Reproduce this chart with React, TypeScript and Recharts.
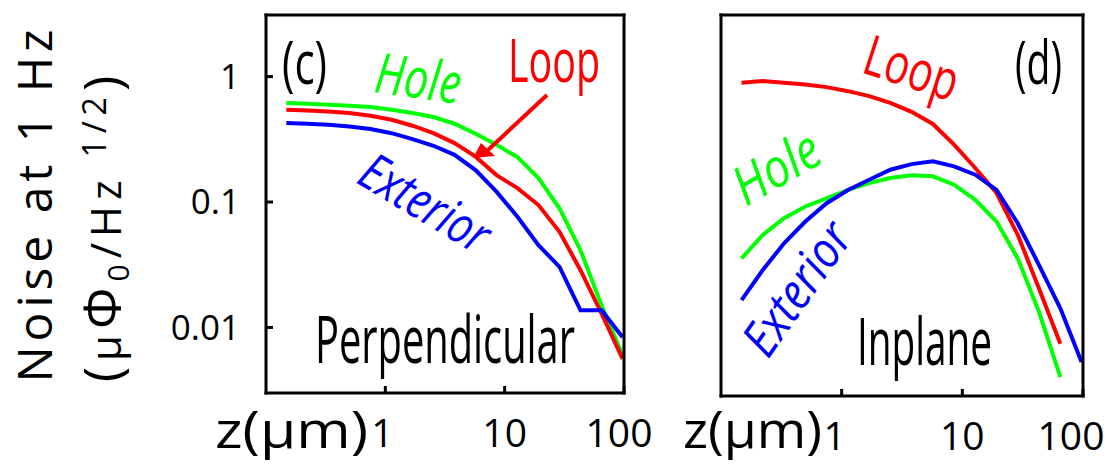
import { LineChart, Line, XAxis, YAxis } from 'recharts';

// z positions (um), shared by both panels
const zGrid = [0.148, 0.222, 0.333, 0.5, 0.75, 1.13, 1.69, 2.53, 3.8, 5.7, 8.54, 12.8, 19.2, 28.8, 43.2, 64.9, 97.3];

// (c) perpendicular
const perpHole = [0.616, 0.608, 0.597, 0.586, 0.572, 0.545, 0.512, 0.476, 0.421, 0.35, 0.286, 0.228, 0.155, 0.089, 0.0413, 0.015, 0.006];
const perpLoop = [0.545, 0.538, 0.528, 0.512, 0.488, 0.453, 0.406, 0.354, 0.295, 0.23, 0.164, 0.129, 0.0946, 0.0579, 0.0286, 0.0129, 0.00562];
const perpExt = [0.426, 0.421, 0.413, 0.4, 0.382, 0.354, 0.317, 0.281, 0.238, 0.18, 0.121, 0.0763, 0.0453, 0.0304, 0.0137, 0.0137, 0.00836];

// (d) inplane
const inLoop = [0.901, 0.93, 0.901, 0.875, 0.833, 0.774, 0.707, 0.625, 0.531, 0.426, 0.292, 0.191, 0.121, 0.0565, 0.0213, 0.00778, null];
const inHole = [0.0368, 0.0565, 0.0764, 0.0947, 0.11, 0.128, 0.145, 0.159, 0.167, 0.164, 0.141, 0.107, 0.072, 0.0368, 0.0139, 0.00424, null];
const inExt = [0.0172, 0.0298, 0.0484, 0.072, 0.1005, 0.128, 0.154, 0.185, 0.205, 0.216, 0.197, 0.169, 0.128, 0.0698, 0.0326, 0.0148, 0.00557];

const xTicks = [1, 10, 100];
const yTicks = [0.01, 0.1, 1];

const FONT = '"Open Sans", sans-serif';
const GREEN = '#00ff00';
const RED = '#ff0000';
const BLUE = '#0000ff';

const frame = { stroke: '#000', strokeWidth: 3, strokeLinecap: 'square' as const };
const tickLn = { stroke: '#000', strokeWidth: 3 };

const rows = (hole: (number | null)[], loop: (number | null)[], ext: (number | null)[]) =>
  zGrid.map((z, i) => ({ z, hole: hole[i], loop: loop[i], ext: ext[i] }));

// bottom tick label, nudged sideways like the original
function XTick(props: any) {
  const { x, y, payload, shift } = props;
  const dx = shift[payload.value] ?? 0;
  return (
    <text x={x + dx} y={y} dy="0.71em" textAnchor="middle" fontSize={39} fontFamily={FONT} fill="#000">
      {payload.value}
    </text>
  );
}

function Panel({ data, width, margin, yLabels, shift }: { data: any[]; width: number; margin: any; yLabels: boolean; shift: Record<number, number> }) {
  return (
    <LineChart width={width} height={464} data={data} margin={margin}>
      <XAxis
        xAxisId="b"
        dataKey="z"
        type="number"
        scale="log"
        domain={[0.1, 100]}
        allowDataOverflow
        ticks={xTicks}
        height={60}
        tickSize={-7}
        tickMargin={33}
        axisLine={frame}
        tickLine={tickLn}
        tick={(p: any) => <XTick {...p} shift={shift} />}
      />
      <XAxis
        xAxisId="t"
        orientation="top"
        dataKey="z"
        type="number"
        scale="log"
        domain={[0.1, 100]}
        allowDataOverflow
        ticks={xTicks}
        height={1}
        tickSize={-7}
        axisLine={frame}
        tickLine={tickLn}
        tick={false}
      />
      <YAxis
        yAxisId="l"
        type="number"
        scale="log"
        domain={[0.003, 3.1]}
        allowDataOverflow
        ticks={yTicks}
        width={yLabels ? 100 : 1}
        tickSize={-7}
        tickMargin={33}
        axisLine={frame}
        tickLine={tickLn}
        tick={yLabels ? { fontSize: 35, fill: '#000', fontFamily: FONT } : false}
      />
      <YAxis
        yAxisId="r"
        orientation="right"
        type="number"
        scale="log"
        domain={[0.003, 3.1]}
        allowDataOverflow
        ticks={yTicks}
        width={1}
        tickSize={-7}
        axisLine={frame}
        tickLine={tickLn}
        tick={false}
      />
      <Line xAxisId="b" yAxisId="l" dataKey="hole" stroke={GREEN} strokeWidth={4} dot={false} isAnimationActive={false} />
      <Line xAxisId="b" yAxisId="l" dataKey="loop" stroke={RED} strokeWidth={4} dot={false} isAnimationActive={false} />
      <Line xAxisId="b" yAxisId="l" dataKey="ext" stroke={BLUE} strokeWidth={4} dot={false} isAnimationActive={false} />
    </LineChart>
  );
}

export default function App() {
  const abs = { position: 'absolute' as const, left: 0, top: 0 };
  return (
    <div style={{ ...abs, width: 1109, height: 464, background: '#fff', fontFamily: FONT, overflow: 'hidden' }}>
      <div style={abs}>
        <Panel
          data={rows(perpHole, perpLoop, perpExt)}
          width={700}
          margin={{ top: 14, right: 75, bottom: 11, left: 166 }}
          yLabels
          shift={{ 1: -3, 100: -5 }}
        />
      </div>
      <div style={abs}>
        <Panel
          data={rows(inHole, inLoop, inExt)}
          width={1109}
          margin={{ top: 14, right: 25, bottom: 8, left: 720 }}
          yLabels={false}
          shift={{ 1: -7, 100: -12 }}
        />
      </div>
      <svg width={1109} height={464} style={{ ...abs, pointerEvents: 'none' }} fontFamily={FONT}>
        {/* y axis title */}
        <text transform="translate(52,206) rotate(-90)" textAnchor="middle" fontSize={48} textLength={353} lengthAdjust="spacing">
          Noise at 1 Hz
        </text>
        <text transform="translate(121,226) rotate(-90)" textAnchor="middle" fontSize={42} letterSpacing={6}>
          <tspan fontSize={52}>(</tspan>
          <tspan>μ</tspan>
          <tspan fontSize={52}>Φ</tspan>
          <tspan fontSize={30} dy={8}>0</tspan>
          <tspan dy={-8}>/Hz </tspan>
          <tspan fontSize={32} dy={-15}>1/2</tspan>
          <tspan fontSize={52} dy={15}>)</tspan>
        </text>

        {/* x axis titles */}
        <text x={215} y={448} fontSize={52} textLength={153} lengthAdjust="spacingAndGlyphs">z(μm)</text>
        <text x={683} y={448} fontSize={52} textLength={139} lengthAdjust="spacingAndGlyphs">z(μm)</text>

        {/* panel (c) */}
        <text x={282} y={84} fontSize={60} textLength={45} lengthAdjust="spacingAndGlyphs">(c)</text>
        <text transform="translate(373,92) rotate(8)" fontSize={56} fontStyle="italic" fill={GREEN} textLength={86} lengthAdjust="spacingAndGlyphs">Hole</text>
        <text x={508} y={82} fontSize={60} fill={RED} textLength={92} lengthAdjust="spacingAndGlyphs">Loop</text>
        <text transform="translate(355,182) rotate(31)" fontSize={52} fontStyle="italic" fill={BLUE} textLength={142} lengthAdjust="spacingAndGlyphs">Exterior</text>
        <text x={315} y={363} fontSize={66} textLength={260} lengthAdjust="spacingAndGlyphs">Perpendicular</text>
        <line x1={547} y1={95} x2={488} y2={150} stroke={RED} strokeWidth={4} />
        <polygon points="473,158 481,143 495,156" fill={RED} />

        {/* panel (d) */}
        <text x={1015} y={84} fontSize={60} textLength={47} lengthAdjust="spacingAndGlyphs">(d)</text>
        <text transform="translate(860,72) rotate(18)" fontSize={56} fill={RED} textLength={96} lengthAdjust="spacingAndGlyphs">Loop</text>
        <text transform="translate(746,207) rotate(-30)" fontSize={54} fontStyle="italic" fill={GREEN} textLength={92} lengthAdjust="spacingAndGlyphs">Hole</text>
        <text transform="translate(768,360) rotate(-55)" fontSize={50} fontStyle="italic" fill={BLUE} textLength={150} lengthAdjust="spacingAndGlyphs">Exterior</text>
        <text x={857} y={365} fontSize={66} textLength={135} lengthAdjust="spacingAndGlyphs">Inplane</text>
      </svg>
    </div>
  );
}
